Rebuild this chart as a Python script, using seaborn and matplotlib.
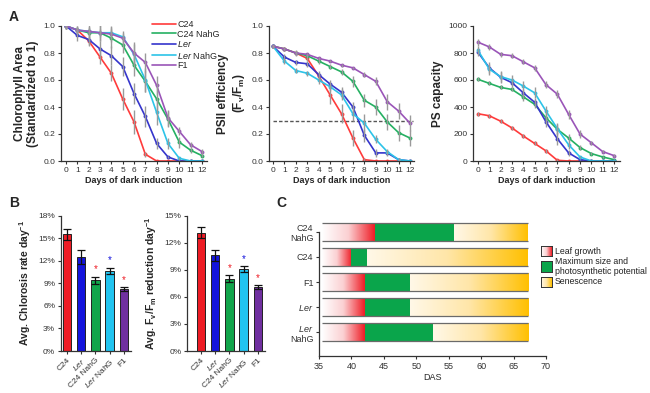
import numpy as np
import pandas as pd
import matplotlib
matplotlib.use("Agg")
import matplotlib.pyplot as plt
import seaborn as sns
from matplotlib.colors import LinearSegmentedColormap

sns.set_style("ticks")
plt.rcParams["font.family"] = ["Liberation Sans", "DejaVu Sans"]
plt.rcParams["mathtext.fontset"] = "custom"
plt.rcParams["mathtext.it"] = "Liberation Sans:italic"
plt.rcParams["mathtext.rm"] = "Liberation Sans"
plt.rcParams["mathtext.bf"] = "Liberation Sans:bold"

# ---- data ----
days = list(range(13))
genotypes = ["C24", "C24 NahG", "Ler", "Ler NahG", "F1"]
labels = ["C24", "C24 NahG", "$\\it{Ler}$", "$\\it{Ler}$ NahG", "F1"]
line_colors = ["#ff3b3b", "#25b062", "#3535cc", "#2cc3e8", "#9a55b8"]

chl_area = {
    "C24":      [1.00, 0.97, 0.89, 0.77, 0.65, 0.46, 0.29, 0.05, 0.00, 0.00, 0.00, 0.00, 0.00],
    "C24 NahG": [1.00, 0.97, 0.95, 0.95, 0.91, 0.86, 0.71, 0.59, 0.46, 0.31, 0.14, 0.08, 0.04],
    "Ler":      [1.00, 0.93, 0.90, 0.83, 0.78, 0.70, 0.50, 0.33, 0.13, 0.03, 0.00, 0.00, 0.00],
    "Ler NahG": [1.00, 0.97, 0.96, 0.95, 0.95, 0.92, 0.79, 0.60, 0.36, 0.13, 0.02, 0.00, 0.00],
    "F1":       [1.00, 0.97, 0.96, 0.95, 0.94, 0.91, 0.80, 0.73, 0.56, 0.32, 0.22, 0.12, 0.07],
}
chl_err = {
    "C24":      [0.02, 0.03, 0.03, 0.05, 0.06, 0.08, 0.09, 0.02, 0, 0, 0, 0, 0],
    "C24 NahG": [0.02, 0.03, 0.04, 0.06, 0.07, 0.06, 0.08, 0.08, 0.08, 0.06, 0.04, 0.02, 0.01],
    "Ler":      [0.02, 0.04, 0.05, 0.06, 0.07, 0.07, 0.08, 0.08, 0.04, 0.01, 0, 0, 0],
    "Ler NahG": [0.02, 0.02, 0.03, 0.03, 0.04, 0.03, 0.08, 0.09, 0.09, 0.04, 0.01, 0, 0],
    "F1":       [0.02, 0.02, 0.06, 0.06, 0.06, 0.05, 0.08, 0.07, 0.07, 0.06, 0.03, 0.02, 0.02],
}

psii = {
    "C24":      [0.85, 0.83, 0.80, 0.76, 0.63, 0.49, 0.35, 0.17, 0.01, 0.00, 0.00, 0.00, 0.00],
    "C24 NahG": [0.85, 0.83, 0.80, 0.78, 0.74, 0.70, 0.66, 0.59, 0.45, 0.40, 0.29, 0.21, 0.17],
    "Ler":      [0.85, 0.77, 0.73, 0.72, 0.64, 0.57, 0.51, 0.40, 0.19, 0.06, 0.06, 0.01, 0.00],
    "Ler NahG": [0.85, 0.74, 0.67, 0.65, 0.60, 0.55, 0.49, 0.35, 0.28, 0.16, 0.07, 0.01, 0.00],
    "F1":       [0.85, 0.83, 0.80, 0.79, 0.76, 0.74, 0.71, 0.69, 0.64, 0.59, 0.44, 0.37, 0.28],
}
psii_err = {
    "C24":      [0.01, 0.01, 0.02, 0.02, 0.02, 0.07, 0.07, 0.06, 0.01, 0, 0, 0, 0],
    "C24 NahG": [0.01, 0.01, 0.01, 0.01, 0.02, 0.02, 0.02, 0.04, 0.05, 0.06, 0.06, 0.06, 0.06],
    "Ler":      [0.01, 0.02, 0.02, 0.02, 0.03, 0.03, 0.04, 0.04, 0.05, 0.03, 0.02, 0.01, 0],
    "Ler NahG": [0.01, 0.02, 0.02, 0.02, 0.03, 0.03, 0.04, 0.05, 0.07, 0.03, 0.02, 0.01, 0],
    "F1":       [0.01, 0.01, 0.01, 0.01, 0.01, 0.01, 0.01, 0.01, 0.02, 0.03, 0.06, 0.06, 0.06],
}
psii_threshold = 0.3

ps_cap = {
    "C24":      [350, 335, 295, 245, 185, 130, 75, 5, 0, 0, 0, 0, 0],
    "C24 NahG": [605, 575, 545, 530, 475, 420, 320, 235, 170, 100, 55, 30, 10],
    "Ler":      [805, 690, 620, 580, 505, 435, 290, 165, 60, 10, 0, 0, 0],
    "Ler NahG": [820, 680, 625, 600, 555, 505, 370, 240, 120, 30, 0, 0, 0],
    "F1":       [880, 845, 790, 780, 735, 690, 565, 495, 345, 200, 135, 70, 40],
}
ps_err = {
    "C24":      [15, 15, 15, 15, 15, 15, 15, 10, 0, 0, 0, 0, 0],
    "C24 NahG": [15, 15, 15, 15, 30, 30, 40, 40, 30, 20, 10, 5, 5],
    "Ler":      [30, 40, 40, 30, 30, 30, 40, 50, 20, 5, 0, 0, 0],
    "Ler NahG": [30, 40, 40, 40, 40, 40, 40, 40, 30, 10, 0, 0, 0],
    "F1":       [25, 25, 20, 20, 20, 20, 25, 30, 35, 30, 15, 10, 10],
}

bar_order = ["C24", "Ler", "C24 NahG", "Ler NahG", "F1"]
bar_labels = ["C24", "$\\it{Ler}$", "C24 NahG", "$\\it{Ler}$ NahG", "F1"]
bar_colors = ["#ee1c25", "#1414dc", "#12a54b", "#22c4f0", "#7030a0"]
chlorosis_rate = [15.5, 12.5, 9.4, 10.65, 8.2]
chlorosis_err = [0.7, 0.9, 0.5, 0.45, 0.25]
fvfm_rate = [13.1, 10.6, 8.0, 9.1, 7.1]
fvfm_err = [0.6, 0.6, 0.4, 0.35, 0.25]
signif_color = [None, None, "#ee1c25", "#1414dc", "#ee1c25"]

c_rows = ["C24\nNahG", "C24", "F1", "$\\it{Ler}$", "$\\it{Ler}$\nNahG"]
c_start = [35.5, 35.5, 35.5, 35.5, 35.5]
growth_end = [43.6, 40.0, 42.1, 42.1, 42.1]
mature_end = [55.8, 42.4, 49.0, 49.0, 52.5]
senes_end = [67.2, 67.2, 67.2, 67.2, 67.2]

# ---- figure ----
W, H = 650, 393
fig = plt.figure(figsize=(6.5, 3.93), dpi=100)


def ax_px(l, r, t, b):
    return fig.add_axes([l / W, 1 - b / H, (r - l) / W, (b - t) / H])


def style(ax, fs=6):
    sns.despine(ax=ax)
    for s in ("left", "bottom"):
        ax.spines[s].set_color("#333333")
        ax.spines[s].set_linewidth(0.9)
    ax.tick_params(labelsize=fs, length=2.5, width=0.8, pad=1.5, colors="#333333")


def line_panel(ax, vals, errs, ylim, yticks, yfmt, ylabel):
    for g, c, lab in zip(genotypes, line_colors, labels):
        sns.lineplot(x=days, y=vals[g], color=c, marker="o", markersize=2.8,
                     markeredgewidth=0, linewidth=1.2, label=lab, ax=ax, zorder=2)
        ax.errorbar(days, vals[g], yerr=errs[g], fmt="none", ecolor="#9a9a9a",
                    elinewidth=1.0, capsize=0, zorder=3)
    ax.set_ylim(*ylim)
    ax.set_yticks(yticks)
    ax.set_yticklabels([yfmt(v) for v in yticks])
    ax.set_xticks(days)
    ax.set_xlabel("Days of dark induction", fontsize=6.5, fontweight="bold", labelpad=1)
    ax.set_ylabel(ylabel, fontsize=8.5, fontweight="bold", labelpad=3)
    style(ax)
    ax.tick_params(axis="x", pad=2)


a1 = ax_px(61, 207, 26, 161)
line_panel(a1, chl_area, chl_err, (0, 1.0), np.arange(0, 1.01, 0.2), lambda v: f"{v:.1f}",
           "Chlorophyll Area\n(Standardized to 1)")
a1.set_xlim(-0.45, 12.45)
a1.legend(loc="upper left", bbox_to_anchor=(0.6, 1.07), frameon=False, fontsize=6.5,
          handlelength=2.6, labelspacing=0.05, handletextpad=0.2, borderaxespad=0)
for h in a1.get_legend().legend_handles:
    h.set_marker("")

a2 = ax_px(269, 414, 26, 161)
line_panel(a2, psii, psii_err, (0, 1.0), np.arange(0, 1.01, 0.2), lambda v: f"{v:.1f}",
           "PSII efficiency\n(F$_\\mathbf{v}$/F$_\\mathbf{m}$)")
a2.hlines(psii_threshold, 0, 12.3, colors="#555555", linestyles=(0, (2.5, 1.5)), linewidth=1.0, zorder=1)
a2.set_xlim(-0.35, 12.35)
a2.get_legend().remove()

a3 = ax_px(473, 620, 26, 161)
line_panel(a3, ps_cap, ps_err, (0, 1000), np.arange(0, 1001, 200), lambda v: f"{int(v)}",
           "PS capacity")
a3.set_xlim(-0.44, 12.53)
a3.get_legend().remove()


def bar_panel(ax, vals, errs, ymax, ylabel, xlim):
    df = pd.DataFrame({"genotype": bar_order, "value": vals})
    sns.barplot(data=df, x="genotype", y="value", hue="genotype", palette=bar_colors,
                order=bar_order, width=0.6, edgecolor="#222222", linewidth=0.7,
                saturation=1, legend=False, ax=ax)
    ax.errorbar(range(len(vals)), vals, yerr=errs, fmt="none", ecolor="#111111",
                elinewidth=0.9, capsize=2.8, capthick=0.9, zorder=4)
    for i, col in enumerate(signif_color):
        if col:
            ax.text(i, vals[i] + errs[i] + ymax * 0.015, "*", color=col, ha="center",
                    va="bottom", fontsize=7)
    ax.set_ylim(0, ymax)
    ticks = np.arange(0, ymax + 0.1, 3)
    ax.set_yticks(ticks)
    ax.set_yticklabels([f"{int(t)}%" for t in ticks])
    ax.set_xlim(*xlim)
    ax.set_xticks(range(len(vals)))
    ax.set_xticklabels(bar_labels, rotation=45, ha="right", rotation_mode="anchor")
    ax.set_xlabel("")
    ax.set_ylabel(ylabel, fontsize=7.5, fontweight="bold", labelpad=4)
    style(ax, fs=6)


b1 = ax_px(60.7, 131, 215.7, 351)
bar_panel(b1, chlorosis_rate, chlorosis_err, 18, "Avg. Chlorosis rate day$^{-1}$", (-0.43, 4.5))

b2 = ax_px(187, 265, 215.7, 351)
bar_panel(b2, fvfm_rate, fvfm_err, 15,
          "Avg. F$_\\mathbf{v}$/F$_\\mathbf{m}$ reduction day$^{\\mathbf{-1}}$", (-0.98, 4.5))
b1.set_ylabel("Avg. Chlorosis rate day$^{\\mathbf{-1}}$", fontsize=7.5, fontweight="bold", labelpad=4)

# ---- panel C ----
c = ax_px(319, 546, 222, 356)
bh = 0.7
red_cmap = LinearSegmentedColormap.from_list("growth", ["#ffffff", "#fbd0d2", "#ee1c25"])
sen_cmap = LinearSegmentedColormap.from_list("senes", ["#fff8e8", "#ffe6a8", "#ffc000"])
grad = np.linspace(0, 1, 256).reshape(1, -1)
green = "#0aa54b"
for i in range(len(c_rows)):
    c.imshow(grad, cmap=red_cmap, aspect="auto", interpolation="bilinear",
             extent=(c_start[i], growth_end[i], i + bh / 2, i - bh / 2), zorder=2)
    c.barh(i, mature_end[i] - growth_end[i], left=growth_end[i], height=bh,
           color=green, linewidth=0, zorder=2)
    c.imshow(grad, cmap=sen_cmap, aspect="auto", interpolation="bilinear",
             extent=(mature_end[i], senes_end[i], i + bh / 2, i - bh / 2), zorder=2)
    c.hlines([i - bh / 2, i + bh / 2], c_start[i], senes_end[i], colors="#6a6a6a",
             linewidth=0.9, zorder=3)
c.set_xlim(35, 70)
c.set_ylim(4.96, -0.4)
c.set_yticks(range(len(c_rows)))
c.set_yticklabels(c_rows, fontsize=6.5)
c.set_xticks(range(35, 71, 5))
c.set_xlabel("DAS", fontsize=6.5, labelpad=2)
style(c, fs=6.5)
c.spines["left"].set_bounds(0, 4.96)

# legend for C
leg_items = [
    (red_cmap, "Leaf growth", 246, 256),
    (None, "Maximum size and\nphotosynthetic potential", 261, 272),
    (sen_cmap, "Senescence", 277, 287),
]
for cmap, txt, t, b in leg_items:
    la = ax_px(541, 552, t, b)
    if cmap is None:
        la.set_facecolor(green)
    else:
        la.imshow(grad, cmap=cmap, aspect="auto", extent=(0, 1, 0, 1))
    la.set_xticks([])
    la.set_yticks([])
    for s in la.spines.values():
        s.set_color("#333333")
        s.set_linewidth(0.7)
    fig.text(555 / W, 1 - ((t + b) / 2) / H, txt, fontsize=6.3, va="center", ha="left",
             color="#222222", linespacing=1.1)

# panel letters
for letter, x, y in [("A", 9, 17), ("B", 9, 203), ("C", 276, 203)]:
    fig.text(x / W, 1 - y / H, letter, fontsize=10, fontweight="bold", va="center")

fig.savefig("out.png", dpi=100)
